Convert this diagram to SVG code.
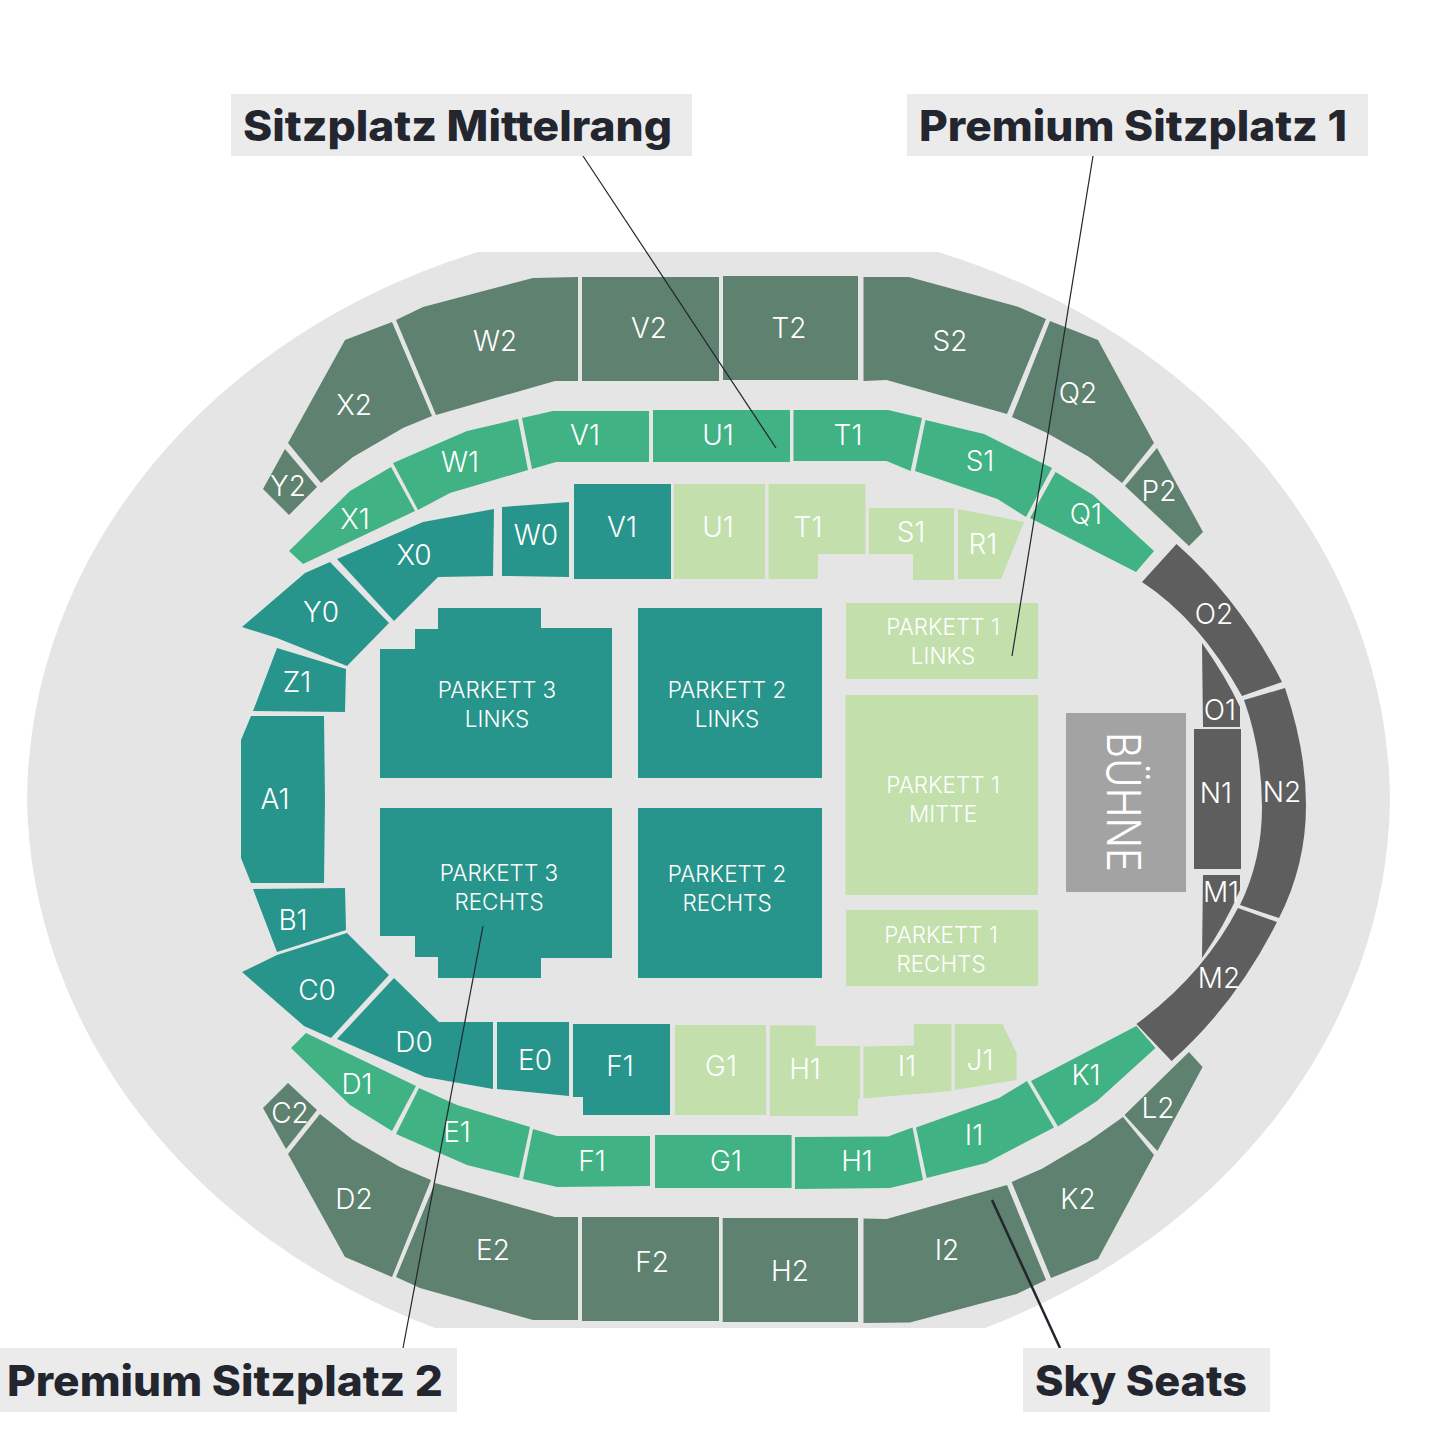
<svg xmlns="http://www.w3.org/2000/svg" width="1445" height="1445" viewBox="0 0 1445 1445">
<style>
text{font-family:Inter,"Liberation Sans",sans-serif;font-weight:300;fill:#fff;text-anchor:middle}
.s{font-size:28px}
.p{font-size:22.5px}
.t{font-size:42px;font-weight:800;fill:#23252f;text-anchor:start}
.sky{fill:#5f8170}.grn{fill:#40b283}.tea{fill:#27958b}.lit{fill:#c2dfac}.drk{fill:#5e5e5e}
.box{fill:#ebebeb}
#connectors line{stroke:#23252f;stroke-width:1.2}
</style>
<rect width="1445" height="1445" fill="#fff"/>
<path id="ground" fill="#e5e5e5" d="M478 252H938A682 586 0 0 1 1390 800A682 586 0 0 1 985 1328H435A682 586 0 0 1 27 800A682 586 0 0 1 478 252Z"/>

<g id="X2"><polygon class="sky" points="345,340 392,322 432,416 403,428 353,457 321,483 288,443"/><text class="s" x="354" y="415">X2</text></g>
<g id="Y2"><polygon class="sky" points="285,449 317,487 289,515 263,489"/><text class="s" x="288" y="496">Y2</text></g>
<g id="W2"><polygon class="sky" points="396,320 423,307 533,278 578,277 578,381 555,381 436,415"/><text class="s" x="495" y="351">W2</text></g>
<g id="V2"><rect class="sky" x="582" y="277" width="137" height="104"/><text class="s" x="649" y="338">V2</text></g>
<g id="T2"><rect class="sky" x="723" y="276" width="135" height="104"/><text class="s" x="789" y="338">T2</text></g>
<g id="S2"><polygon class="sky" points="863.500,277 909,277 1018.500,307 1046,319 1007,414 886.500,380 863.500,381"/><text class="s" x="950" y="351">S2</text></g>
<g id="Q2"><polygon class="sky" points="1050,321 1098,340 1154,443 1122,483 1089,457 1047,433 1012,417"/><text class="s" x="1078" y="403">Q2</text></g>
<g id="P2"><polygon class="sky" points="1157,448 1203,532 1189,546 1125,486"/><text class="s" x="1159" y="501">P2</text></g>

<g id="V1-upper"><polygon class="grn" points="522,418 553,411 649,411 649,462 556,462 532,469"/><text class="s" x="585" y="445">V1</text></g>
<g id="U1-upper"><rect class="grn" x="653" y="410" width="137" height="52"/><text class="s" x="718" y="445">U1</text></g>
<g id="T1-upper"><polygon class="grn" points="793.500,410 888,410 922,418 910.600,471 886.500,461 793.500,461"/><text class="s" x="848" y="445">T1</text></g>
<g id="W1"><polygon class="grn" points="393,463 467,431 518,419 528,470 450,493 418,510"/><text class="s" x="460" y="472">W1</text></g>
<g id="X1"><polygon class="grn" points="391,467 415,511 303,564 289,551 350,491"/><text class="s" x="355" y="529">X1</text></g>
<g id="S1-upper"><polygon class="grn" points="925.500,420 984,434 1052,468 1026,517 997.500,499 915,471"/><text class="s" x="980" y="471">S1</text></g>
<g id="Q1"><polygon class="grn" points="1055.600,472 1093,495 1154,551 1136,572 1030,518"/><text class="s" x="1086" y="524">Q1</text></g>

<g id="X0"><polygon class="tea" points="337,559 423,522 494,509 493,576 438,577 394,621"/><text class="s" x="414" y="565">X0</text></g>
<g id="W0"><polygon class="tea" points="502,507 569,502 569,577 502,576"/><text class="s" x="536" y="545">W0</text></g>
<g id="V1-lower"><rect class="tea" x="574" y="484" width="97" height="95"/><text class="s" x="622" y="537">V1</text></g>
<g id="U1-lower"><rect class="lit" x="674" y="484" width="91" height="95"/><text class="s" x="718" y="537">U1</text></g>
<g id="T1-lower"><polygon class="lit" points="768.600,484 865.400,484 865.400,554 818,554 818,579 768.600,579"/><text class="s" x="808" y="537">T1</text></g>
<g id="S1-lower"><polygon class="lit" points="869,508 954,508 954,580 913,580 913,554 869,554"/><text class="s" x="911" y="542">S1</text></g>
<g id="R1"><polygon class="lit" points="958,509 1024,522 1001,579 958,579"/><text class="s" x="983" y="554">R1</text></g>
<g id="Y0"><polygon class="tea" points="330,562 389,623 347,666 277,638 242,627 305,573"/><text class="s" x="321" y="622">Y0</text></g>
<g id="Z1"><polygon class="tea" points="277,648 346,669 345,712 253,711"/><text class="s" x="297" y="692">Z1</text></g>
<g id="A1"><polygon class="tea" points="251,716 324,716 325,800 324,883 251,883 241,858 241,740"/><text class="s" x="275" y="809">A1</text></g>
<g id="B1"><polygon class="tea" points="253,889 345,888 346,930 277,952"/><text class="s" x="293" y="930">B1</text></g>
<g id="C0"><polygon class="tea" points="347,933 389,975 331,1038 304,1026 242,972 277,955"/><text class="s" x="317" y="1000">C0</text></g>
<g id="D0"><polygon class="tea" points="394,978 439,1022 493,1022 493,1089 425,1077 337,1039"/><text class="s" x="414" y="1052">D0</text></g>
<g id="E0"><polygon class="tea" points="497,1022 569,1022 569,1096 497,1089"/><text class="s" x="535" y="1070">E0</text></g>
<g id="F1-lower"><polygon class="tea" points="573,1024 670,1024 670,1115 583,1115 583,1097 573,1097"/><text class="s" x="620" y="1076">F1</text></g>
<g id="G1-lower"><rect class="lit" x="675" y="1025" width="91" height="90"/><text class="s" x="721" y="1076">G1</text></g>
<g id="H1-lower"><polygon class="lit" points="770,1025.500 815.700,1025.500 815.700,1046 860,1046 860,1099 858,1099 858,1116 770,1116"/><text class="s" x="805" y="1079">H1</text></g>
<g id="I1-lower"><polygon class="lit" points="863.500,1046.600 914,1045.600 914,1024 951.500,1024 951.500,1091 863.500,1098.500"/><text class="s" x="907" y="1076">I1</text></g>
<g id="J1"><polygon class="lit" points="954.600,1024 1002.400,1024 1016.600,1053 1016.600,1080 954.600,1090"/><text class="s" x="980" y="1070">J1</text></g>

<g id="D1"><polygon class="grn" points="306,1033 416,1086 392,1131 350,1105 291,1048"/><text class="s" x="357" y="1094">D1</text></g>
<g id="E1"><polygon class="grn" points="419,1088 457,1105 530,1127 519,1178 467,1165 396,1134"/><text class="s" x="457" y="1142">E1</text></g>
<g id="F1-upper"><polygon class="grn" points="533,1129 557,1136 650,1136 650,1186 557,1187 523,1179"/><text class="s" x="592" y="1171">F1</text></g>
<g id="G1-upper"><rect class="grn" x="655" y="1135" width="136.600" height="53"/><text class="s" x="726" y="1171">G1</text></g>
<g id="H1-upper"><polygon class="grn" points="795,1137 888,1136.600 912.500,1127.500 923,1180 890,1188 795,1189"/><text class="s" x="857" y="1171">H1</text></g>
<g id="I1-upper"><polygon class="grn" points="916,1127.500 999,1098 1027,1081 1054,1127.500 986,1163 926.700,1178"/><text class="s" x="974" y="1145">I1</text></g>
<g id="K1"><polygon class="grn" points="1136.400,1026 1155.500,1048 1097,1101 1058,1126.500 1031,1081"/><text class="s" x="1086" y="1085">K1</text></g>

<g id="C2"><polygon class="sky" points="288,1083 317,1110 286,1149 263,1108"/><text class="s" x="290" y="1123">C2</text></g>
<g id="D2"><polygon class="sky" points="320,1114 353,1140 400,1167 431,1180 392,1277 345,1257 288,1154"/><text class="s" x="354" y="1209">D2</text></g>
<g id="E2"><polygon class="sky" points="435,1183 555,1217 578,1217 578,1320 533,1320 420,1288 396,1277"/><text class="s" x="493" y="1260">E2</text></g>
<g id="F2"><rect class="sky" x="582" y="1217" width="137" height="104"/><text class="s" x="652" y="1272">F2</text></g>
<g id="H2"><rect class="sky" x="722.700" y="1218" width="135.300" height="104"/><text class="s" x="790" y="1281">H2</text></g>
<g id="I2"><polygon class="sky" points="863.500,1218.500 886.500,1219 1007,1185 1046,1280 1016.600,1294 910,1322.500 863.500,1323"/><text class="s" x="947" y="1260">I2</text></g>
<g id="K2"><polygon class="sky" points="1011.600,1182 1041.500,1169 1089,1141 1123,1117 1154,1155 1098,1259 1051,1278"/><text class="s" x="1078" y="1209">K2</text></g>
<g id="L2"><polygon class="sky" points="1189,1052 1202.600,1067 1157.400,1151 1124.500,1115"/><text class="s" x="1158" y="1118">L2</text></g>

<g id="O2"><path class="drk" d="M1176.500 544Q1240 600 1282 682L1242 696Q1200 620 1142 582Z"/><text class="s" x="1214" y="624">O2</text></g>
<g id="O1"><path class="drk" d="M1202 643Q1225 675 1240 707V727H1203Z"/><text class="s" x="1220" y="720">O1</text></g>
<g id="N1"><rect class="drk" x="1194" y="729" width="47" height="140"/><text class="s" x="1216" y="803">N1</text></g>
<g id="N2"><path class="drk" d="M1285 688Q1306 750 1306 805Q1306 865 1279 918L1240 905Q1262 860 1262 807Q1262 750 1244 700Z"/><text class="s" x="1282" y="802">N2</text></g>
<g id="M1"><path class="drk" d="M1203 875H1240V890Q1225 925 1202 958Z"/><text class="s" x="1221" y="902">M1</text></g>
<g id="M2"><path class="drk" d="M1238 908L1277 922Q1235 1005 1171.600 1061L1136.400 1024Q1203 975 1238 908Z"/><text class="s" x="1219" y="988">M2</text></g>

<g id="parkett-3-links"><polygon class="tea" points="438,608 541,608 541,628 612,628 612,778 380,778 380,649 415,649 415,629 438,629"/><text class="p" x="497" y="698">PARKETT 3</text><text class="p" x="497" y="727">LINKS</text></g>
<g id="parkett-2-links"><rect class="tea" x="638" y="608" width="184" height="170"/><text class="p" x="727" y="698">PARKETT 2</text><text class="p" x="727" y="727">LINKS</text></g>
<g id="parkett-3-rechts"><polygon class="tea" points="380,808 612,808 612,958 541,958 541,978 438,978 438,957 415,957 415,936 380,936"/><text class="p" x="499" y="881">PARKETT 3</text><text class="p" x="499" y="910">RECHTS</text></g>
<g id="parkett-2-rechts"><rect class="tea" x="638" y="808" width="184" height="170"/><text class="p" x="727" y="882">PARKETT 2</text><text class="p" x="727" y="911">RECHTS</text></g>
<g id="parkett-1-links"><rect class="lit" x="846" y="603" width="192" height="76"/><text class="p" x="943" y="635">PARKETT 1</text><text class="p" x="943" y="664">LINKS</text></g>
<g id="parkett-1-mitte"><rect class="lit" x="845.500" y="695" width="192.500" height="200"/><text class="p" x="943" y="793">PARKETT 1</text><text class="p" x="943" y="822">MITTE</text></g>
<g id="parkett-1-rechts"><rect class="lit" x="846" y="910" width="192" height="76"/><text class="p" x="941" y="943">PARKETT 1</text><text class="p" x="941" y="972">RECHTS</text></g>
<g id="buehne"><rect x="1066" y="713" width="120" height="179" fill="#a3a3a3"/><text transform="translate(1107 802) rotate(90)" font-size="46" textLength="140" lengthAdjust="spacingAndGlyphs">BÜHNE</text></g>

<g id="connectors">
<line x1="583" y1="156" x2="776" y2="448"/>
<line x1="1093" y1="156" x2="1012" y2="656"/>
<line x1="403" y1="1348" x2="483" y2="926"/>
<line x1="992" y1="1200" x2="1060" y2="1348" style="stroke-width:2.500"/>
</g>

<g id="label-mittelrang"><rect class="box" x="231" y="94" width="461" height="62"/><text class="t" x="243" y="141" textLength="429" lengthAdjust="spacingAndGlyphs">Sitzplatz Mittelrang</text></g>
<g id="label-premium-1"><rect class="box" x="907" y="94" width="461" height="62"/><text class="t" x="919" y="141" textLength="428" lengthAdjust="spacingAndGlyphs">Premium Sitzplatz 1</text></g>
<g id="label-premium-2"><rect class="box" x="0" y="1348" width="457" height="64"/><text class="t" x="7" y="1396" textLength="436" lengthAdjust="spacingAndGlyphs">Premium Sitzplatz 2</text></g>
<g id="label-sky"><rect class="box" x="1023" y="1348" width="247" height="64"/><text class="t" x="1035" y="1396" textLength="212" lengthAdjust="spacingAndGlyphs">Sky Seats</text></g>
</svg>
